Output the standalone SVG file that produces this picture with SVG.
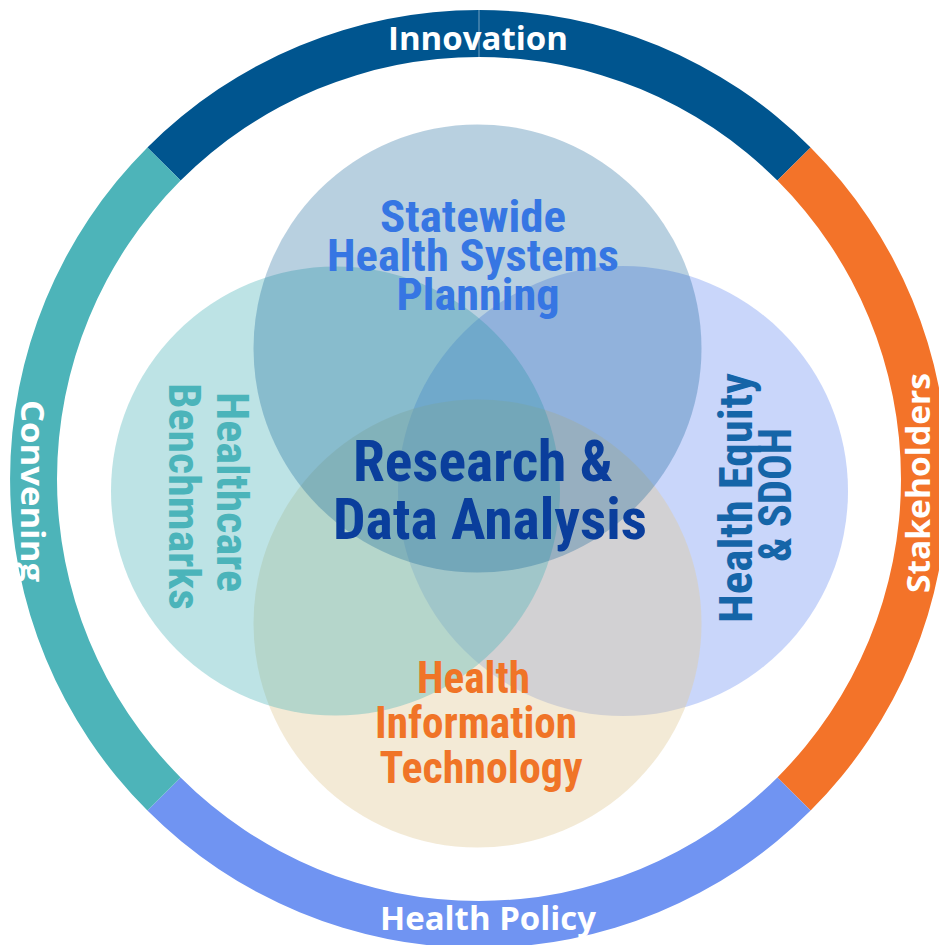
<svg xmlns="http://www.w3.org/2000/svg" width="939" height="945" viewBox="0 0 939 945">
  <style>
    .ring-label{font-family:"Open Sans","Liberation Sans",sans-serif;font-weight:700;font-size:33px;fill:#ffffff;text-anchor:middle}
    .venn-label{font-family:Roboto,"Liberation Sans",sans-serif;font-weight:700;font-stretch:condensed;text-anchor:middle}
    .venn-circle{stroke:none}
  </style>
  <rect width="939" height="945" fill="#ffffff"/>

  <!-- outer ring: four quarter segments around (479,479) -->
  <g id="outer-ring">
    <g id="ring-innovation">
      <path d="M147.4,147.4 A469,469 0 0 1 810.6,147.4 L777.4,180.6 A422,422 0 0 0 180.6,180.6 Z" fill="#00558F"/>
      <line x1="479" y1="10" x2="479" y2="57" stroke="#ffffff" stroke-opacity="0.45" stroke-width="1"/>
      <text class="ring-label" x="478" y="50" textLength="180" lengthAdjust="spacingAndGlyphs">Innovation</text>
    </g>
    <g id="ring-stakeholders">
      <path d="M810.6,147.4 A469,469 0 0 1 810.6,810.6 L777.4,777.4 A422,422 0 0 0 777.4,180.6 Z" fill="#F37329"/>
      <text class="ring-label" transform="translate(930,483) rotate(-90)" textLength="220" lengthAdjust="spacingAndGlyphs">Stakeholders</text>
    </g>
    <g id="ring-health-policy">
      <path d="M810.6,810.6 A469,469 0 0 1 147.4,810.6 L180.6,777.4 A422,422 0 0 0 777.4,777.4 Z" fill="#7094F2"/>
      <text class="ring-label" x="488" y="930" textLength="216" lengthAdjust="spacingAndGlyphs">Health Policy</text>
    </g>
    <g id="ring-convening">
      <path d="M147.4,810.6 A469,469 0 0 1 147.4,147.4 L180.6,180.6 A422,422 0 0 0 180.6,777.4 Z" fill="#4DB4B9"/>
      <text class="ring-label" transform="translate(21,491) rotate(90)" textLength="182" lengthAdjust="spacingAndGlyphs">Convening</text>
    </g>
  </g>

  <!-- translucent Venn circles, painted back to front -->
  <g id="venn">
    <g id="node-health-equity">
      <circle class="venn-circle" cx="623" cy="491" r="225" fill="#7094F2" fill-opacity="0.38"/>
    </g>
    <g id="node-health-it">
      <circle class="venn-circle" cx="477.5" cy="623.5" r="224" fill="#E2CA98" fill-opacity="0.4"/>
    </g>
    <g id="node-healthcare-benchmarks">
      <circle class="venn-circle" cx="335.5" cy="491" r="224.5" fill="#4DB3B8" fill-opacity="0.37"/>
    </g>
    <g id="node-statewide-planning">
      <circle class="venn-circle" cx="477.5" cy="348.5" r="224" fill="#00558F" fill-opacity="0.28"/>
    </g>
  </g>

  <!-- circle labels sit above every circle -->
  <g id="venn-labels">
    <g id="label-statewide-planning" class="venn-label" fill="#3676E3" font-size="44">
      <text x="473" y="232" textLength="186" lengthAdjust="spacingAndGlyphs">Statewide</text>
      <text x="473" y="271" textLength="292" lengthAdjust="spacingAndGlyphs">Health Systems</text>
      <text x="478" y="310" textLength="163" lengthAdjust="spacingAndGlyphs">Planning</text>
    </g>
    <g id="label-healthcare-benchmarks" class="venn-label" fill="#4BB4BA" font-size="45">
      <text transform="translate(217,492) rotate(90)" textLength="200" lengthAdjust="spacingAndGlyphs">Healthcare</text>
      <text transform="translate(169,496.5) rotate(90)" textLength="227" lengthAdjust="spacingAndGlyphs">Benchmarks</text>
    </g>
    <g id="label-health-equity" class="venn-label" fill="#1565A8" font-size="46">
      <text transform="translate(752,498) rotate(-90)" textLength="250" lengthAdjust="spacingAndGlyphs">Health Equity</text>
      <text transform="translate(791,495) rotate(-90)" textLength="134" lengthAdjust="spacingAndGlyphs">&amp; SDOH</text>
    </g>
    <g id="label-health-it" class="venn-label" fill="#F07427" font-size="44">
      <text x="473.5" y="693" textLength="113" lengthAdjust="spacingAndGlyphs">Health</text>
      <text x="476" y="738" textLength="202" lengthAdjust="spacingAndGlyphs">Information</text>
      <text x="481" y="783" textLength="203" lengthAdjust="spacingAndGlyphs">Technology</text>
    </g>
    <g id="label-research" class="venn-label" fill="#0A3E9C" font-size="57">
      <text x="483" y="481" textLength="260" lengthAdjust="spacingAndGlyphs">Research &amp;</text>
      <text x="490" y="539" textLength="314" lengthAdjust="spacingAndGlyphs">Data Analysis</text>
    </g>
  </g>
</svg>
